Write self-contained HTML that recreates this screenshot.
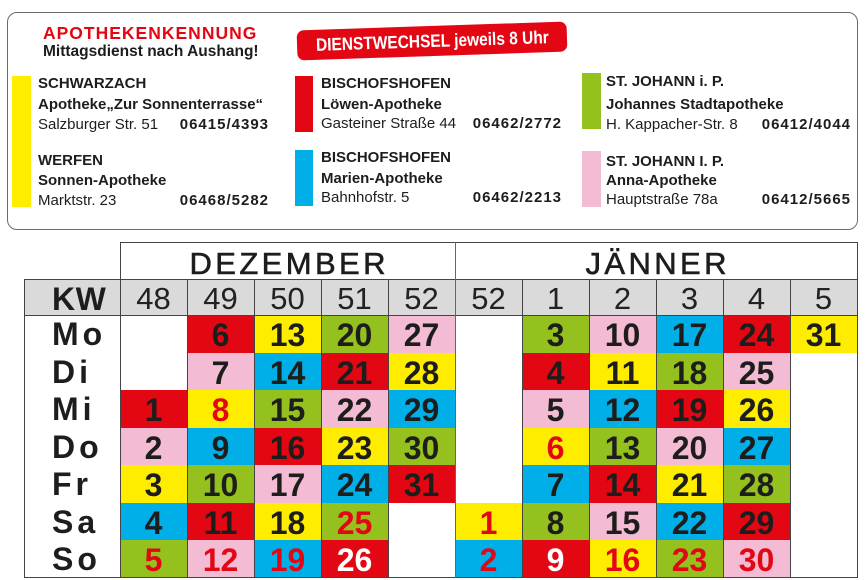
<!DOCTYPE html>
<html><head><meta charset="utf-8">
<style>
*{margin:0;padding:0;box-sizing:border-box}
html,body{width:865px;height:580px;background:#fff;overflow:hidden}
body{position:relative;font-family:"Liberation Sans",sans-serif;color:#1d1d1b}
.a{position:absolute;white-space:nowrap}
.box{left:7px;top:12px;width:851px;height:218px;border:1px solid #6b6b6b;border-radius:10px}
.t{font-size:15px;line-height:20px}
.b{font-weight:bold}
.ph{font-weight:bold;letter-spacing:1px}
.bar{position:absolute}
.R{background:#e30613}.Y{background:#ffed00}.G{background:#95c11f}.B{background:#00afe8}.P{background:#f4bbd5}
.c{position:absolute;width:67px;height:37.5px;text-align:center;font-weight:bold;font-size:32px;line-height:37.5px;padding-top:2px;color:#1d1d1b}
.rt{color:#e30613}.wt{color:#fff}
.k{position:absolute;top:279px;width:67px;height:36px;text-align:center;font-size:31px;line-height:36px;padding-top:2px;color:#222}
.d{position:absolute;left:52px;height:37.5px;font-weight:bold;font-size:32px;line-height:37.5px;padding-top:1px;letter-spacing:4px;color:#1d1d1b}
.v{position:absolute;width:1px;background:#444}
.h{position:absolute;height:1px;background:#444}
.m{position:absolute;top:242px;height:37px;text-align:center;font-size:31px;line-height:37px;padding-top:3px;letter-spacing:3.4px;-webkit-text-stroke:0.6px #1d1d1b;color:#1d1d1b}
</style></head><body>

<div class="a box"></div>
<div class="a b" style="left:43px;top:23px;font-size:17.5px;line-height:20px;letter-spacing:1px;color:#e30613">APOTHEKENKENNUNG</div>
<div class="a b" style="left:43px;top:41.5px;font-size:15.5px;line-height:20px">Mittagsdienst nach Aushang!</div>

<div class="a" style="left:297px;top:25.5px;width:270px;height:30px;background:#e30613;border-radius:7px;transform:rotate(-1.9deg);text-align:center;line-height:30px;color:#fff;font-weight:bold;font-size:18px"><span style="display:inline-block;transform:scaleX(0.86)">DIENSTWECHSEL jeweils 8 Uhr</span></div>

<div class="bar Y" style="left:12px;top:76px;width:19px;height:131px"></div>
<div class="bar R" style="left:295px;top:76px;width:18px;height:56px"></div>
<div class="bar B" style="left:295px;top:150px;width:18px;height:56px"></div>
<div class="bar G" style="left:582px;top:73px;width:19px;height:56px"></div>
<div class="bar P" style="left:582px;top:151px;width:19px;height:56px"></div>

<div class="a t b" style="left:38px;top:74px">SCHWARZACH</div>
<div class="a t b" style="left:38px;top:95px">Apotheke„Zur Sonnenterrasse“</div>
<div class="a t" style="left:38px;top:114.5px">Salzburger Str. 51</div>
<div class="a t ph" style="right:596px;top:114.5px">06415/4393</div>
<div class="a t b" style="left:38px;top:151px">WERFEN</div>
<div class="a t b" style="left:38px;top:170.5px">Sonnen-Apotheke</div>
<div class="a t" style="left:38px;top:190.5px">Marktstr. 23</div>
<div class="a t ph" style="right:596px;top:190.5px">06468/5282</div>

<div class="a t b" style="left:321px;top:74px">BISCHOFSHOFEN</div>
<div class="a t b" style="left:321px;top:95px">Löwen-Apotheke</div>
<div class="a t" style="left:321px;top:114px">Gasteiner Straße 44</div>
<div class="a t ph" style="right:303px;top:114px">06462/2772</div>
<div class="a t b" style="left:321px;top:148px">BISCHOFSHOFEN</div>
<div class="a t b" style="left:321px;top:169px">Marien-Apotheke</div>
<div class="a t" style="left:321px;top:188px">Bahnhofstr. 5</div>
<div class="a t ph" style="right:303px;top:188px">06462/2213</div>

<div class="a t b" style="left:606px;top:72px">ST. JOHANN i. P.</div>
<div class="a t b" style="left:606px;top:95px">Johannes Stadtapotheke</div>
<div class="a t" style="left:606px;top:115px">H. Kappacher-Str. 8</div>
<div class="a t ph" style="right:14px;top:115px">06412/4044</div>
<div class="a t b" style="left:606px;top:152px">ST. JOHANN I. P.</div>
<div class="a t b" style="left:606px;top:170.5px">Anna-Apotheke</div>
<div class="a t" style="left:606px;top:190px">Hauptstraße 78a</div>
<div class="a t ph" style="right:14px;top:190px">06412/5665</div>

<!-- month headers -->
<div class="m" style="left:120px;width:335px;padding-left:3.4px">DEZEMBER</div>
<div class="m" style="left:455px;width:402px;padding-left:3.4px">JÄNNER</div>

<!-- KW row -->
<div class="a" style="left:24px;top:279px;width:833px;height:36px;background:#dadada"></div>
<div class="a b" style="left:52px;top:279px;font-size:32px;line-height:36px;padding-top:2px;letter-spacing:0.5px">KW</div>
<div class="k" style="left:120px">48</div>
<div class="k" style="left:187px">49</div>
<div class="k" style="left:254px">50</div>
<div class="k" style="left:321px">51</div>
<div class="k" style="left:388px">52</div>
<div class="k" style="left:455px">52</div>
<div class="k" style="left:522px">1</div>
<div class="k" style="left:589px">2</div>
<div class="k" style="left:656px">3</div>
<div class="k" style="left:723px">4</div>
<div class="k" style="left:790px">5</div>

<!-- day labels -->
<div class="d" style="top:315px">Mo</div>
<div class="d" style="top:352.5px">Di</div>
<div class="d" style="top:390px">Mi</div>
<div class="d" style="top:427.5px">Do</div>
<div class="d" style="top:465px">Fr</div>
<div class="d" style="top:502.5px">Sa</div>
<div class="d rt" style="top:540px">So</div>

<!-- Dec 48 -->
<div class="c R" style="left:120px;top:390px">1</div>
<div class="c P" style="left:120px;top:427.5px">2</div>
<div class="c Y" style="left:120px;top:465px">3</div>
<div class="c B" style="left:120px;top:502.5px">4</div>
<div class="c G rt" style="left:120px;top:540px">5</div>
<!-- 49 -->
<div class="c R" style="left:187px;top:315px">6</div>
<div class="c P" style="left:187px;top:352.5px">7</div>
<div class="c Y rt" style="left:187px;top:390px">8</div>
<div class="c B" style="left:187px;top:427.5px">9</div>
<div class="c G" style="left:187px;top:465px">10</div>
<div class="c R" style="left:187px;top:502.5px">11</div>
<div class="c P rt" style="left:187px;top:540px">12</div>
<!-- 50 -->
<div class="c Y" style="left:254px;top:315px">13</div>
<div class="c B" style="left:254px;top:352.5px">14</div>
<div class="c G" style="left:254px;top:390px">15</div>
<div class="c R" style="left:254px;top:427.5px">16</div>
<div class="c P" style="left:254px;top:465px">17</div>
<div class="c Y" style="left:254px;top:502.5px">18</div>
<div class="c B rt" style="left:254px;top:540px">19</div>
<!-- 51 -->
<div class="c G" style="left:321px;top:315px">20</div>
<div class="c R" style="left:321px;top:352.5px">21</div>
<div class="c P" style="left:321px;top:390px">22</div>
<div class="c Y" style="left:321px;top:427.5px">23</div>
<div class="c B" style="left:321px;top:465px">24</div>
<div class="c G rt" style="left:321px;top:502.5px">25</div>
<div class="c R wt" style="left:321px;top:540px">26</div>
<!-- 52 -->
<div class="c P" style="left:388px;top:315px">27</div>
<div class="c Y" style="left:388px;top:352.5px">28</div>
<div class="c B" style="left:388px;top:390px">29</div>
<div class="c G" style="left:388px;top:427.5px">30</div>
<div class="c R" style="left:388px;top:465px">31</div>
<!-- Jan 52 -->
<div class="c Y rt" style="left:455px;top:502.5px">1</div>
<div class="c B rt" style="left:455px;top:540px">2</div>
<!-- Jan 1 -->
<div class="c G" style="left:522px;top:315px">3</div>
<div class="c R" style="left:522px;top:352.5px">4</div>
<div class="c P" style="left:522px;top:390px">5</div>
<div class="c Y rt" style="left:522px;top:427.5px">6</div>
<div class="c B" style="left:522px;top:465px">7</div>
<div class="c G" style="left:522px;top:502.5px">8</div>
<div class="c R wt" style="left:522px;top:540px">9</div>
<!-- Jan 2 -->
<div class="c P" style="left:589px;top:315px">10</div>
<div class="c Y" style="left:589px;top:352.5px">11</div>
<div class="c B" style="left:589px;top:390px">12</div>
<div class="c G" style="left:589px;top:427.5px">13</div>
<div class="c R" style="left:589px;top:465px">14</div>
<div class="c P" style="left:589px;top:502.5px">15</div>
<div class="c Y rt" style="left:589px;top:540px">16</div>
<!-- Jan 3 -->
<div class="c B" style="left:656px;top:315px">17</div>
<div class="c G" style="left:656px;top:352.5px">18</div>
<div class="c R" style="left:656px;top:390px">19</div>
<div class="c P" style="left:656px;top:427.5px">20</div>
<div class="c Y" style="left:656px;top:465px">21</div>
<div class="c B" style="left:656px;top:502.5px">22</div>
<div class="c G rt" style="left:656px;top:540px">23</div>
<!-- Jan 4 -->
<div class="c R" style="left:723px;top:315px">24</div>
<div class="c P" style="left:723px;top:352.5px">25</div>
<div class="c Y" style="left:723px;top:390px">26</div>
<div class="c B" style="left:723px;top:427.5px">27</div>
<div class="c G" style="left:723px;top:465px">28</div>
<div class="c R" style="left:723px;top:502.5px">29</div>
<div class="c P rt" style="left:723px;top:540px">30</div>
<!-- Jan 5 -->
<div class="c Y" style="left:790px;top:315px">31</div>

<!-- grid lines -->
<div class="h" style="left:120px;top:242px;width:738px"></div>
<div class="h" style="left:24px;top:279px;width:834px"></div>
<div class="h" style="left:24px;top:315px;width:834px"></div>
<div class="h" style="left:24px;top:577px;width:834px"></div>
<div class="v" style="left:24px;top:279px;height:299px"></div>
<div class="v" style="left:120px;top:242px;height:336px"></div>
<div class="v" style="left:187px;top:279px;height:299px"></div>
<div class="v" style="left:254px;top:279px;height:299px"></div>
<div class="v" style="left:321px;top:279px;height:299px"></div>
<div class="v" style="left:388px;top:279px;height:299px"></div>
<div class="v" style="left:455px;top:242px;height:336px;background:#666"></div>
<div class="v" style="left:522px;top:279px;height:299px"></div>
<div class="v" style="left:589px;top:279px;height:299px"></div>
<div class="v" style="left:656px;top:279px;height:299px"></div>
<div class="v" style="left:723px;top:279px;height:299px"></div>
<div class="v" style="left:790px;top:279px;height:299px"></div>
<div class="v" style="left:857px;top:242px;height:336px"></div>

</body></html>
